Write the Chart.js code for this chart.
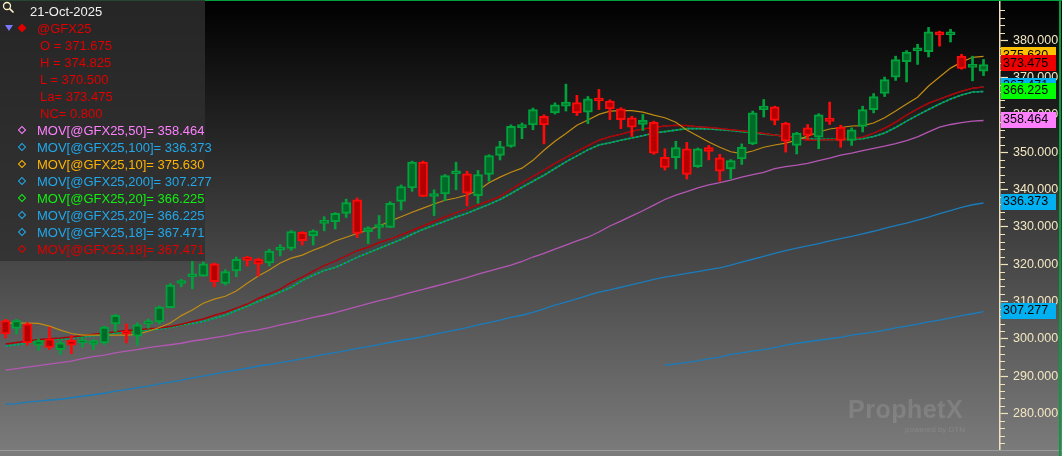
<!DOCTYPE html>
<html lang="en">
<head>
<meta charset="UTF-8">
<title>@GFX25 daily candles with moving averages</title>
<script src="https://cdn.jsdelivr.net/npm/chart.js"></script>
<style>
  body { margin: 0; background: #000; }
  .wrap { position: relative; width: 1062px; height: 456px; overflow: hidden; }
  canvas { display: block; }
  .panel {
    position: absolute; left: 0; top: 0; width: 205px; height: 261px;
    background: rgba(48, 48, 48, 0.8);
    font-family: 'Liberation Sans', Arial, sans-serif; font-size: 13px;
  }
  .row { position: absolute; height: 17px; line-height: 17px; white-space: nowrap; }
  .dia { position: absolute; width: 4px; height: 4px; border: 1.5px solid; transform: rotate(45deg); }
  .tri { position: absolute; left: 5px; top: 25px; width: 0; height: 0;
    border-left: 4px solid transparent; border-right: 4px solid transparent; border-top: 6px solid #7878ff; }
  .mark { position: absolute; left: 848px; top: 395px; font-family: 'Liberation Sans', Arial, sans-serif;
    color: rgba(255, 255, 255, 0.12); font-weight: bold; font-size: 25px; letter-spacing: 0.5px; white-space: nowrap; }
  .mark small { position: absolute; left: 57px; top: 30px; font-size: 8px; font-weight: normal; letter-spacing: 0; white-space: nowrap; }
</style>
</head>
<body>
<div class="wrap">
  <canvas id="chart" width="1062" height="456"></canvas>
  <div class="panel" id="panel">
    <svg style="position:absolute;left:2px;top:1px" width="13" height="13">
      <circle cx="5" cy="5" r="3.5" fill="none" stroke="#fff6c8" stroke-width="1.3"/>
      <line x1="7.6" y1="7.6" x2="11.5" y2="11.5" stroke="#fff6c8" stroke-width="1.6"/>
    </svg>
    <div class="tri"></div>
  </div>
  <div class="mark">ProphetX<small>powered by DTN</small></div>
</div>

<script>
  // 90 daily sessions up to 21-Oct-2025, plus one empty slot on the right
  const lastDate = '21-Oct-2025';
  const sessions = Array.from({ length: 91 }, (_, i) => String(i + 1));

  const open = [
    304.9, 302.8, 304.0, 298.3, 300.0, 297.1, 299.6, 298.9, 298.5, 298.9,
    304.0, 302.0, 300.7, 304.0, 304.5, 308.3, 314.8, 316.6, 316.8, 320.1,
    314.8, 318.2, 321.9, 321.3, 320.3, 323.7, 324.2, 328.5, 327.6, 330.9,
    331.4, 333.6, 337.2, 328.7, 329.8, 329.8, 336.8, 340.4, 347.3, 338.1,
    338.8, 344.2, 344.2, 338.3, 344.0, 349.1, 351.5, 356.5, 357.3, 359.6,
    360.5, 362.3, 363.3, 360.7, 364.2, 363.7, 361.6, 359.2, 357.4, 358.0,
    348.6, 348.5, 350.9, 346.1, 351.2, 348.5, 345.5, 348.2, 352.2, 361.4,
    362.1, 357.8, 351.8, 356.5, 354.0, 359.1, 356.7, 353.1, 356.9, 361.4,
    365.7, 370.1, 374.2, 377.1, 376.9, 382.2, 381.4, 375.7, 372.7, 371.675
  ];
  const high = [
    305.2, 305.2, 304.3, 300.0, 303.1, 299.4, 300.9, 300.2, 299.8, 303.4,
    306.5, 304.0, 304.3, 305.3, 308.8, 314.8, 315.9, 320.7, 320.6, 320.3,
    318.5, 321.9, 322.1, 321.6, 324.0, 325.2, 329.0, 328.7, 329.2, 332.7,
    333.8, 337.4, 337.7, 330.0, 333.0, 336.7, 341.2, 347.6, 347.6, 339.9,
    344.0, 347.3, 344.9, 345.1, 349.3, 352.9, 357.3, 357.8, 361.8, 360.0,
    363.2, 368.2, 365.2, 364.9, 366.8, 364.0, 361.9, 359.6, 360.1, 358.3,
    350.9, 352.9, 352.6, 351.1, 351.8, 349.4, 348.0, 352.2, 361.0, 364.1,
    362.3, 358.0, 355.3, 357.4, 360.3, 363.4, 357.2, 356.5, 362.3, 365.7,
    370.1, 375.7, 377.2, 378.9, 383.4, 382.4, 382.9, 376.2, 375.7, 374.825
  ];
  const low = [
    300.2, 301.3, 298.3, 296.9, 297.1, 295.8, 296.0, 297.7, 297.1, 298.5,
    301.9, 298.9, 298.3, 302.8, 304.0, 308.3, 313.9, 313.4, 316.8, 313.9,
    314.4, 316.6, 319.5, 316.8, 319.5, 322.2, 323.7, 325.1, 325.1, 328.9,
    329.4, 332.5, 327.1, 325.5, 326.9, 329.8, 334.5, 339.5, 338.1, 333.0,
    337.0, 339.9, 335.6, 336.3, 342.2, 347.9, 351.3, 353.6, 356.0, 352.2,
    360.2, 361.0, 359.8, 357.6, 361.4, 358.7, 356.3, 354.2, 355.8, 349.4,
    345.2, 345.5, 342.8, 345.9, 347.9, 342.2, 342.8, 346.7, 352.0, 359.4,
    357.3, 350.0, 349.5, 353.3, 350.9, 357.4, 351.3, 351.8, 355.4, 360.5,
    364.9, 369.2, 368.8, 373.5, 375.5, 378.4, 379.5, 372.2, 369.1, 370.5
  ];
  const close = [
    301.3, 304.9, 298.9, 299.5, 297.7, 298.9, 298.3, 299.4, 299.5, 303.1,
    306.3, 301.2, 303.7, 304.7, 308.5, 314.4, 315.5, 317.3, 320.1, 315.3,
    318.0, 321.3, 321.0, 320.0, 323.5, 324.4, 328.7, 326.3, 328.9, 331.6,
    333.6, 336.5, 328.2, 329.7, 330.5, 336.3, 340.8, 347.3, 338.1, 338.8,
    343.7, 344.9, 339.0, 344.0, 349.1, 351.5, 356.9, 357.4, 361.4, 357.3,
    362.7, 363.4, 360.5, 364.3, 363.7, 361.6, 358.7, 356.7, 358.5, 349.7,
    345.9, 351.2, 344.0, 350.9, 350.2, 344.9, 347.7, 351.3, 360.5, 362.3,
    358.5, 352.9, 355.1, 354.5, 360.0, 358.2, 353.1, 356.0, 361.4, 364.9,
    369.4, 374.8, 376.8, 377.7, 382.2, 381.4, 382.0, 372.4, 373.5, 373.475
  ];
  const netChange = 0.8;

  // moving averages (MOV[@GFX25,n])
  const ma10 = [
    304.2, 304.2, 304.2, 304.1, 303.4, 302.3, 301.4, 301.0, 301.0, 301.0,
    301.0, 301.0, 301.2, 302.0, 303.0, 304.2, 306.2, 307.7, 309.5, 310.6,
    311.4, 312.8, 314.9, 316.8, 318.4, 320.3, 321.6, 322.4, 323.7, 324.8,
    326.2, 327.2, 328.2, 329.1, 330.2, 331.5, 332.7, 333.9, 335.0, 336.1,
    337.1, 337.7, 338.5, 339.7, 341.8, 343.3, 344.6, 345.7, 347.8, 350.5,
    352.9, 355.0, 357.2, 358.6, 360.1, 361.0, 361.1, 361.1, 360.7, 359.9,
    359.2, 358.0, 355.9, 354.3, 352.7, 351.3, 350.1, 349.6, 350.3, 351.3,
    351.9, 352.4, 353.2, 354.3, 355.4, 356.2, 356.6, 357.0, 357.1, 357.8,
    359.2, 361.0, 362.9, 364.7, 367.7, 370.1, 372.5, 374.1, 375.4, 375.630
  ];
  const ma18 = [
    298.6, 299.0, 299.4, 299.8, 300.0, 300.2, 300.5, 300.8, 301.2, 301.5,
    301.9, 302.2, 302.4, 302.7, 302.9, 303.3, 303.9, 304.6, 305.3, 306.3,
    307.1, 308.2, 309.3, 310.8, 312.0, 313.3, 315.1, 316.5, 318.1, 319.6,
    320.8, 322.2, 323.6, 324.5, 325.8, 326.7, 327.8, 329.0, 330.2, 331.4,
    332.6, 333.8, 334.8, 335.9, 336.9, 338.1, 340.0, 341.8, 343.5, 345.2,
    347.0, 348.6, 350.2, 351.7, 353.2, 354.1, 354.8, 355.6, 356.2, 356.6,
    357.0, 357.2, 357.1, 356.8, 356.6, 356.3, 356.0, 355.7, 355.4, 355.0,
    354.6, 354.2, 353.7, 353.2, 353.2, 353.3, 353.4, 353.6, 354.0, 355.1,
    356.4, 358.0, 359.9, 361.6, 363.1, 364.2, 365.3, 366.3, 367.1, 367.471
  ];
  const ma20 = [
    298.0, 298.4, 298.8, 299.2, 299.6, 299.9, 300.2, 300.5, 300.8, 301.1,
    301.5, 301.8, 302.0, 302.3, 302.6, 303.0, 303.7, 304.1, 304.6, 305.5,
    306.3, 307.5, 308.7, 310.0, 311.2, 312.5, 313.8, 315.6, 317.0, 318.3,
    319.1, 320.4, 321.8, 323.0, 324.2, 325.4, 326.6, 328.0, 329.3, 330.4,
    331.5, 332.6, 333.6, 334.8, 336.0, 337.3, 338.9, 340.6, 342.2, 343.8,
    345.6, 347.4, 349.0, 350.6, 351.9, 352.5, 353.2, 353.8, 354.4, 355.1,
    355.5, 355.9, 356.3, 356.3, 356.2, 356.0, 355.8, 355.5, 355.2, 354.8,
    354.6, 354.2, 353.9, 353.6, 353.4, 353.4, 353.4, 353.4, 353.6, 354.2,
    355.1, 356.6, 358.3, 359.9, 361.4, 362.9, 364.2, 365.3, 366.1, 366.225
  ];
  const ma50 = [
    291.6, 292.0, 292.4, 292.8, 293.2, 293.6, 294.0, 294.7, 295.2, 295.6,
    296.2, 296.7, 297.1, 297.6, 298.0, 298.4, 298.8, 299.4, 299.8, 300.3,
    300.8, 301.4, 301.9, 302.4, 303.0, 303.7, 304.3, 305.0, 305.7, 306.3,
    307.0, 307.8, 308.6, 309.4, 310.2, 310.9, 311.7, 312.5, 313.2, 314.0,
    314.8, 315.6, 316.4, 317.3, 318.1, 318.9, 319.7, 320.7, 321.9, 322.9,
    324.0, 325.1, 326.2, 327.2, 328.6, 330.2, 331.5, 332.9, 334.3, 335.8,
    337.3, 338.5, 339.4, 340.4, 341.2, 341.8, 342.5, 343.3, 344.0, 344.6,
    345.6, 346.1, 346.5, 347.0, 347.7, 348.4, 349.2, 349.7, 350.4, 351.0,
    351.6, 352.3, 353.1, 354.1, 355.4, 356.7, 357.4, 357.9, 358.3, 358.464
  ];
  const ma100 = [
    282.4, 282.6, 283.0, 283.3, 283.6, 283.8, 284.2, 284.6, 285.0, 285.4,
    286.0, 286.4, 286.9, 287.3, 287.9, 288.4, 288.9, 289.5, 290.0, 290.5,
    291.1, 291.6, 292.1, 292.7, 293.1, 293.6, 294.1, 294.7, 295.2, 295.8,
    296.3, 296.8, 297.4, 297.9, 298.4, 299.0, 299.6, 300.0, 300.6, 301.2,
    301.8, 302.4, 303.0, 303.7, 304.3, 305.0, 305.7, 306.3, 307.1, 308.0,
    309.0, 309.8, 310.7, 311.6, 312.5, 313.1, 313.8, 314.5, 315.2, 315.9,
    316.5, 317.0, 317.5, 318.0, 318.5, 319.0, 319.7, 320.5, 321.3, 322.1,
    322.9, 323.6, 324.3, 324.9, 325.5, 326.2, 326.8, 327.4, 328.1, 328.8,
    329.6, 330.3, 331.0, 331.8, 332.6, 333.5, 334.3, 335.2, 335.9, 336.373
  ];
  const ma200 = [
    null, null, null, null, null, null, null, null, null, null,
    null, null, null, null, null, null, null, null, null, null,
    null, null, null, null, null, null, null, null, null, null,
    null, null, null, null, null, null, null, null, null, null,
    null, null, null, null, null, null, null, null, null, null,
    null, null, null, null, null, null, null, null, null, null,
    292.9, 293.3, 293.7, 294.1, 294.7, 295.1, 295.8, 296.2, 296.7, 297.1,
    297.6, 298.3, 298.8, 299.2, 299.6, 300.0, 300.4, 301.0, 301.4, 301.8,
    302.3, 302.9, 303.4, 303.9, 304.5, 305.0, 305.6, 306.2, 306.7, 307.277
  ];

  const yTicks = [280, 290, 300, 310, 320, 330, 340, 350, 360, 370, 380];

  // legend rows: name, series
  const maNames = [
    'MOV[@GFX25,50]= ', 'MOV[@GFX25,100]= ', 'MOV[@GFX25,10]= ', 'MOV[@GFX25,200]= ',
    'MOV[@GFX25,20]= ', 'MOV[@GFX25,20]= ', 'MOV[@GFX25,18]= ', 'MOV[@GFX25,18]= '
  ];
  const maSeries = [ma50, ma100, ma10, ma200, ma20, ma20, ma18, ma18];
  const maTextColors = ['#ff80ff', '#22a8ea', '#ffb400', '#22a8ea', '#10f010', '#22a8ea', '#22a8ea', '#e00000'];

  const last = a => a[a.length - 1];
  const fmt = v => Number(v).toFixed(3);

  // ---- legend panel ----
  const panel = document.getElementById('panel');
  function addRow(k, left, text, color) {
    const d = document.createElement('div');
    d.className = 'row';
    d.style.top = (3 + 17 * k) + 'px';
    d.style.left = left + 'px';
    d.style.color = color;
    d.textContent = text;
    panel.appendChild(d);
  }
  function addDiamond(k, color, filled) {
    const d = document.createElement('div');
    d.className = 'dia';
    d.style.left = '19px';
    d.style.top = (11.5 + 17 * k - 3.5) + 'px';
    d.style.borderColor = color;
    if (filled) d.style.background = color;
    panel.appendChild(d);
  }
  const n = close.length - 1;
  addRow(0, 30, lastDate, '#f2f2f2');
  addDiamond(1, '#e00000', true);
  addRow(1, 37, '@GFX25', '#e00000');
  addRow(2, 40, 'O = ' + fmt(open[n]), '#e00000');
  addRow(3, 40, 'H = ' + fmt(high[n]), '#e00000');
  addRow(4, 40, 'L = ' + fmt(low[n]), '#e00000');
  addRow(5, 40, 'La= ' + fmt(close[n]), '#e00000');
  addRow(6, 40, 'NC= ' + fmt(netChange), '#e00000');
  maNames.forEach((name, i) => {
    addDiamond(7 + i, maTextColors[i], false);
    addRow(7 + i, 37, name + fmt(last(maSeries[i])), maTextColors[i]);
  });

  // ---- chart ----
  const upBorder = '#00a23c', upFill = '#006b28';
  const dnBorder = '#ff0a0a', dnFill = '#b40000';
  const isUp = close.map((c, i) => c >= open[i]);

  const lineDs = (data, color, width, order, dash) => ({
    type: 'line', data, borderColor: color, borderWidth: width, borderDash: dash || [],
    pointRadius: 0, tension: 0, fill: false, order
  });

  // tags on the price axis, drawn in this order (later ones on top)
  const priceTags = [
    [ma200, '#00b0f0'], [ma100, '#00b0f0'], [ma50, '#ff80ff'], [ma10, '#ffc000'],
    [close, '#ee0000'], [ma18, '#ee0000'], [ma18, '#00b0f0'], [ma20, '#00b0f0'], [ma20, '#00ff00']
  ];

  const frame = {
    id: 'frame',
    beforeDraw(chart) {
      const c = chart.ctx;
      const g = c.createLinearGradient(0, 0, 0, 452);
      g.addColorStop(0, '#000000');
      g.addColorStop(1, '#7b7b7b');
      c.save();
      c.fillStyle = g;
      c.fillRect(0, 0, chart.width, chart.height);
      c.restore();
    },
    afterDraw(chart) {
      const c = chart.ctx, y = chart.scales.y, right = chart.chartArea.right;
      c.save();
      // minor ticks every 2
      c.strokeStyle = '#efe3bd';
      c.lineWidth = 1;
      for (let v = 272; v <= 390; v += 2) {
        if (v % 10 === 0) continue;
        const py = Math.round(y.getPixelForValue(v)) + 0.5;
        c.beginPath(); c.moveTo(right, py); c.lineTo(right + 5, py); c.stroke();
      }
      // price tags
      c.font = '12.5px "Liberation Sans", Arial, sans-serif';
      c.textBaseline = 'middle';
      c.textAlign = 'left';
      priceTags.forEach(([series, color]) => {
        const v = last(series);
        const py = y.getPixelForValue(v);
        c.fillStyle = color;
        c.fillRect(right + 1, Math.round(py - 9), 55, 16);
        c.fillStyle = '#000';
        c.fillText(fmt(v), right + 3, py - 1);
      });
      // bottom strip and green frame
      c.fillStyle = '#9a9a9a';
      c.fillRect(0, 450, chart.width, 1);
      c.fillStyle = '#00a03c';
      c.fillRect(0, 0, chart.width, 1);
      c.fillRect(chart.width - 3, 0, 2, chart.height);
      c.restore();
    }
  };

  new Chart(document.getElementById('chart'), {
    type: 'bar',
    data: {
      labels: sessions,
      datasets: [
        {
          data: open.map((o, i) => [o, close[i]]),
          backgroundColor: isUp.map(u => u ? upFill : dnFill),
          borderColor: isUp.map(u => u ? upBorder : dnBorder),
          borderWidth: 2, borderSkipped: false,
          barThickness: 9, minBarLength: 3, grouped: false, order: 1
        },
        {
          data: low.map((l, i) => [l, high[i]]),
          backgroundColor: isUp.map(u => u ? upBorder : dnBorder),
          borderWidth: 0, barThickness: 2, grouped: false, order: 2
        },
        lineDs(ma10, '#c28c12', 1.2, 3),
        lineDs(ma18, '#b00000', 1.5, 4),
        lineDs(ma20, '#1a8ad0', 1.6, 5, [2, 2]),
        lineDs(ma20, '#00a400', 1.6, 6),
        lineDs(ma18, '#1a8ad0', 1, 7),
        lineDs(ma50, '#b456b4', 1.3, 8),
        lineDs(ma100, '#1a7cbc', 1.3, 9),
        lineDs(ma200, '#1a7cbc', 1.3, 10)
      ]
    },
    options: {
      responsive: false,
      animation: false,
      events: [],
      layout: { padding: { top: 0, right: 0, bottom: 6, left: 0 } },
      plugins: { legend: { display: false }, tooltip: { enabled: false } },
      scales: {
        x: { type: 'category', display: false, offset: true, grid: { display: false } },
        y: {
          position: 'right',
          min: 270.2,
          max: 390.75,
          afterFit(s) { s.width = 62; s.paddingTop = 0; s.paddingBottom = 0; },
          afterBuildTicks(s) { s.ticks = yTicks.map(v => ({ value: v })); },
          border: { display: true, color: '#efe3bd', width: 1.5 },
          grid: { drawOnChartArea: false, drawTicks: true, tickLength: 8, tickColor: '#efe3bd', tickWidth: 1.2 },
          ticks: {
            color: '#f3e7c2', padding: 5,
            font: { family: 'Liberation Sans', size: 12.5 },
            callback: v => fmt(v)
          }
        }
      }
    },
    plugins: [frame]
  });
</script>
</body>
</html>
